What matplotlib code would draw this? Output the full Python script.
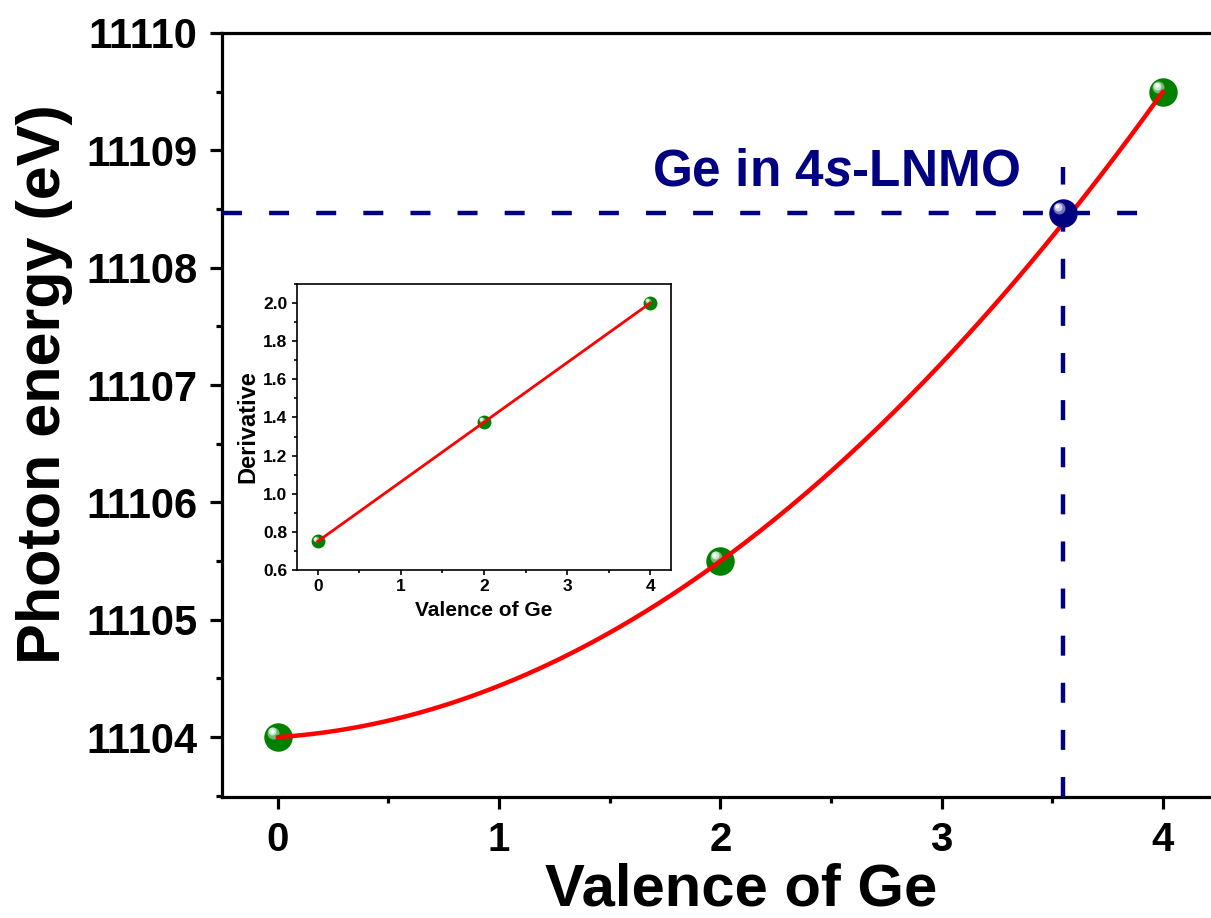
import numpy as np
import matplotlib
matplotlib.use("Agg")
import matplotlib.pyplot as plt
from matplotlib.ticker import MultipleLocator, FormatStrFormatter
from matplotlib.transforms import offset_copy
from matplotlib.colors import to_rgb

plt.rcParams['font.family'] = ['Liberation Sans', 'DejaVu Sans']
plt.rcParams['font.weight'] = 'bold'
plt.rcParams['mathtext.fontset'] = 'custom'
plt.rcParams['mathtext.rm'] = 'Liberation Sans:bold'
plt.rcParams['mathtext.it'] = 'Liberation Sans:italic:bold'
plt.rcParams['mathtext.bf'] = 'Liberation Sans:bold'

# Reference standards: Ge edge energy vs. valence
valence = [0, 2, 4]
energy = [11104.0, 11105.5, 11109.5]

# Derivative of the calibration curve (inset)
deriv_valence = [0, 2, 4]
derivative = [0.75, 1.375, 2.0]

# Ge in the 4s-LNMO sample
sample_valence = 3.55
sample_energy = 11108.47
sample_label = r"Ge in 4$\mathit{s}$-LNMO"

x_ticks = [0, 1, 2, 3, 4]
y_ticks = [11104, 11105, 11106, 11107, 11108, 11109, 11110]

GREEN = '#008000'
NAVY = '#000080'
RED = '#ff0000'

fig = plt.figure(figsize=(12.11, 9.18), dpi=100)


def sphere(ax, x, y, size, color, z):
    """Shaded ball marker: solid disc plus an offset highlight."""
    base = np.array(to_rgb(color))
    ax.plot(x, y, 'o', ms=size, color=color, mec='none', zorder=z, clip_on=False)
    for frac, mix, off in [(0.42, 0.45, 0.16), (0.28, 0.8, 0.2), (0.14, 1.0, 0.22)]:
        c = base + (1 - base) * mix
        tr = offset_copy(ax.transData, fig=fig, x=-off * size, y=off * size, units='points')
        ax.plot(x, y, 'o', ms=size * frac, color=c, mec='none', transform=tr,
                zorder=z + 0.1, clip_on=False)


# ---------------- main axes ----------------
ax = fig.add_axes([222 / 1211, 1 - 797 / 918, 1 - 222 / 1211, (797 - 33) / 918])
ax.set_xlim(-0.252, 4.217)
ax.set_ylim(11103.49, 11110)

for s in ['left', 'bottom', 'top']:
    ax.spines[s].set_linewidth(2.3)
ax.spines['right'].set_visible(False)

ax.xaxis.set_minor_locator(MultipleLocator(0.5))
ax.yaxis.set_minor_locator(MultipleLocator(0.5))
ax.set_xticks(x_ticks)
ax.set_yticks(y_ticks)
ax.yaxis.set_major_formatter(FormatStrFormatter('%d'))
ax.tick_params(which='major', direction='out', length=8.6, width=2.3,
               labelsize=30, pad=9, top=False, right=False)
ax.tick_params(which='minor', direction='out', length=4.3, width=2.3,
               top=False, right=False)
ax.tick_params(axis='x', labelsize=29)
for lab in ax.get_xticklabels() + ax.get_yticklabels():
    lab.set_fontweight('bold')

# quadratic calibration curve
coef = np.polyfit(valence, energy, 2)
xs = np.linspace(min(valence), max(valence), 300)
ax.plot(xs, np.polyval(coef, xs), color=RED, lw=3.2, zorder=5, solid_capstyle='round')

for xv, yv in zip(valence, energy):
    sphere(ax, xv, yv, 20.5, GREEN, 3)

# guide lines to the sample point
ax.plot([-0.252, 3.89], [sample_energy, sample_energy], color=NAVY, lw=3.2,
        dashes=(4.5, 6.1), zorder=6)
ax.plot([sample_valence, sample_valence], [11103.49, 11108.86], color=NAVY, lw=3.2,
        dashes=(4.5, 6.1), zorder=6)
sphere(ax, sample_valence, sample_energy, 20.5, NAVY, 7)

ax.text(1.691, 11108.70, sample_label, color=NAVY, fontsize=37, fontweight='bold',
        ha='left', va='baseline', zorder=8)

fig.text(741 / 1211, 1 - 906 / 918, 'Valence of Ge', fontsize=43, fontweight='bold',
         ha='center', va='baseline')
fig.text(45 / 1211, 1 - 384 / 918, 'Photon energy (eV)', fontsize=44, fontweight='bold',
         rotation=90, ha='center', va='center')

# ---------------- inset ----------------
ins = fig.add_axes([296.7 / 1211, 1 - 570 / 918, (671 - 296.7) / 1211, (570 - 284) / 918])
ins.set_xlim(-0.253, 4.25)
ins.set_ylim(0.6, 2.1)
for s in ins.spines.values():
    s.set_linewidth(1.2)
ins.xaxis.set_major_locator(MultipleLocator(1))
ins.xaxis.set_minor_locator(MultipleLocator(0.5))
ins.yaxis.set_major_locator(MultipleLocator(0.2))
ins.yaxis.set_minor_locator(MultipleLocator(0.1))
ins.yaxis.set_major_formatter(FormatStrFormatter('%.1f'))
ins.tick_params(which='major', direction='out', length=3.6, width=1.2, labelsize=12.5, pad=3)
ins.tick_params(which='minor', direction='out', length=2.2, width=1.2)
for lab in ins.get_xticklabels() + ins.get_yticklabels():
    lab.set_fontweight('bold')

lin = np.polyfit(deriv_valence, derivative, 1)
xl = np.linspace(min(deriv_valence), max(deriv_valence), 50)
ins.plot(xl, np.polyval(lin, xl), color=RED, lw=2.0, zorder=5)
for xv, yv in zip(deriv_valence, derivative):
    sphere(ins, xv, yv, 10, GREEN, 3)

ins.set_xlabel('Valence of Ge', fontsize=15, fontweight='bold', labelpad=5)
ins.set_ylabel('Derivative', fontsize=17, fontweight='bold', labelpad=3)

fig.savefig('out.png', dpi=100)
